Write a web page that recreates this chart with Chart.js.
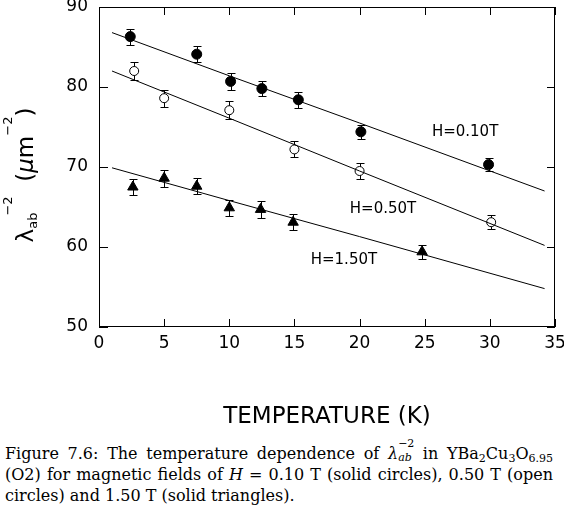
<!DOCTYPE html>
<html>
<head>
<meta charset="utf-8">
<script src="https://cdn.jsdelivr.net/npm/chart.js@4"></script>
<style>
  body { margin: 0; background: #fff; }
  #wrap { position: relative; width: 564px; height: 514px; }
  #chart { position: absolute; left: 0; top: 0; }
  #cap {
    position: absolute; left: 5px; top: 443px; width: 548px;
    font-family: "DejaVu Serif", serif; font-size: 16px; color: #000;
  }
  .ln { height: 21px; line-height: 21px; white-space: nowrap; }
  .j { text-align: justify; text-align-last: justify; }
  sub { font-size: 11px; vertical-align: -3px; line-height: 0; }
  .ss { display: inline-block; position: relative; width: 16px; height: 10px; }
  .ss .sp { position: absolute; left: 0; top: -11px; font-size: 11px; line-height: 11px; }
  .ss .sb { position: absolute; left: 0; top: 3px; font-size: 11px; line-height: 11px; }
</style>
</head>
<body>
<div id="wrap">
  <canvas id="chart" width="564" height="432"></canvas>
  <div id="cap">
    <div class="ln j">Figure 7.6: The temperature dependence of <i>λ</i><span class="ss"><span class="sp">−2</span><span class="sb"><i>ab</i></span></span> in YBa<sub>2</sub>Cu<sub>3</sub>O<sub>6.95</sub></div>
    <div class="ln j">(O2) for magnetic fields of <i>H</i> = 0.10 T (solid circles), 0.50 T (open</div>
    <div class="ln">circles) and 1.50 T (solid triangles).</div>
  </div>
</div>
<script>
// H = 0.10 T (solid circles)
const temps010 = [2.4, 7.5, 10.1, 12.5, 15.3, 20.1, 29.9];
const lam010 = [86.3, 84.1, 80.7, 79.8, 78.4, 74.4, 70.3];
const err010 = [1.0, 1.0, 1.05, 0.9, 1.0, 0.85, 0.85];

// H = 0.50 T (open circles)
const temps050 = [2.7, 5.0, 10.0, 15.0, 20.0, 30.1];
const lam050 = [82.0, 78.6, 77.1, 72.2, 69.5, 63.1];
const err050 = [1.1, 1.05, 1.1, 1.0, 1.0, 0.9];

// H = 1.50 T (solid triangles)
const temps150 = [2.6, 5.0, 7.5, 10.0, 12.4, 14.9, 24.8];
const lam150 = [67.5, 68.6, 67.6, 64.9, 64.7, 63.1, 59.4];
const err150 = [1.0, 1.05, 1.0, 1.0, 1.05, 1.0, 0.85];

// fitted curves
const fitTemps = [1.0, 10, 20, 34.2];
const fit010 = [86.8, 81.4, 75.5, 67.0];
const fit050 = [82.0, 76.1, 69.5, 60.2];
const fit150 = [69.9, 65.8, 61.3, 54.8];

const fieldLabels = ["H=0.10T", "H=0.50T", "H=1.50T"];
const labelSpots = [[28.1, 74.3], [21.8, 64.7], [18.8, 58.4]];

const xTicks = [0, 5, 10, 15, 20, 25, 30, 35];
const yTicks = [50, 60, 70, 80, 90];

const FONT = "'DejaVu Sans', sans-serif";

function pts(xs, ys) {
    return xs.map((x, i) => ({ x: x, y: ys[i] }));
}

const errorSets = [
    { t: temps010, v: lam010, e: err010 },
    { t: temps050, v: lam050, e: err050 },
    { t: temps150, v: lam150, e: err150 }
];

const framePlugin = {
    id: "frame",
    beforeDatasetsDraw(chart) {
        const ctx = chart.ctx;
        const xs = chart.scales.x, ys = chart.scales.y;
        ctx.save();
        ctx.strokeStyle = "#000";
        ctx.lineWidth = 1;
        errorSets.forEach(set => {
            set.t.forEach((t, i) => {
                const px = Math.round(xs.getPixelForValue(t)) + 0.5;
                const top = Math.round(ys.getPixelForValue(set.v[i] + set.e[i])) + 0.5;
                const bot = Math.round(ys.getPixelForValue(set.v[i] - set.e[i])) + 0.5;
                ctx.beginPath();
                ctx.moveTo(px, top); ctx.lineTo(px, bot);
                ctx.moveTo(px - 4, top); ctx.lineTo(px + 4, top);
                ctx.moveTo(px - 4, bot); ctx.lineTo(px + 4, bot);
                ctx.stroke();
            });
        });
        ctx.restore();
    },
    afterDraw(chart) {
        const ctx = chart.ctx;
        const a = chart.chartArea;
        const xs = chart.scales.x, ys = chart.scales.y;
        ctx.save();
        ctx.strokeStyle = "#000";
        ctx.lineWidth = 1;
        ctx.strokeRect(a.left + 0.5, a.top + 0.5, a.right - a.left - 1, a.bottom - a.top - 1);

        // inward ticks on all four sides
        ctx.beginPath();
        xTicks.forEach(v => {
            const px = Math.round(xs.getPixelForValue(v)) + 0.5;
            ctx.moveTo(px, a.bottom); ctx.lineTo(px, a.bottom - 8);
            ctx.moveTo(px, a.top); ctx.lineTo(px, a.top + 8);
        });
        yTicks.forEach(v => {
            const py = Math.round(ys.getPixelForValue(v)) + 0.5;
            ctx.moveTo(a.left, py); ctx.lineTo(a.left + 9, py);
            ctx.moveTo(a.right, py); ctx.lineTo(a.right - 8, py);
        });
        ctx.stroke();

        ctx.fillStyle = "#000";
        // field labels
        ctx.font = "15px " + FONT;
        ctx.textAlign = "center";
        ctx.textBaseline = "middle";
        fieldLabels.forEach((txt, i) => {
            ctx.fillText(txt, xs.getPixelForValue(labelSpots[i][0]), ys.getPixelForValue(labelSpots[i][1]));
        });

        // x title
        ctx.font = "23px " + FONT;
        ctx.textBaseline = "middle";
        ctx.fillText("TEMPERATURE (K)", (a.left + a.right) / 2, 417);

        // y title, rotated
        const main = "23px " + FONT, small = "13px " + FONT;
        const parts = [
            { t: "λ", f: main, dy: 0 },
            { t: "ab", f: small, dy: 4 },
            { t: "−2", f: small, dy: -21, back: 3 },
            { t: "  (", f: main, dy: 0 },
            { t: "μ", f: "italic " + main, dy: 0 },
            { t: "m", f: main, dy: 0 },
            { t: "−2", f: small, dy: -21 },
            { t: ")", f: main, dy: 0 }
        ];
        let total = 0;
        parts.forEach(p => {
            ctx.font = p.f;
            p.w = ctx.measureText(p.t).width;
            total += p.w - (p.back || 0);
        });
        ctx.translate(33, 175);
        ctx.rotate(-Math.PI / 2);
        ctx.textAlign = "left";
        ctx.textBaseline = "alphabetic";
        let cx = -total / 2;
        parts.forEach(p => {
            ctx.font = p.f;
            cx -= (p.back || 0);
            ctx.fillText(p.t, cx, p.dy);
            cx += p.w;
        });
        ctx.restore();
    }
};

new Chart(document.getElementById("chart"), {
    type: "scatter",
    data: {
        datasets: [
            { data: pts(fitTemps, fit010), showLine: true, pointRadius: 0, borderColor: "#000", borderWidth: 1 },
            { data: pts(fitTemps, fit050), showLine: true, pointRadius: 0, borderColor: "#000", borderWidth: 1 },
            { data: pts(fitTemps, fit150), showLine: true, pointRadius: 0, borderColor: "#000", borderWidth: 1 },
            { data: pts(temps010, lam010), pointStyle: "circle", pointRadius: 5, backgroundColor: "#000", borderColor: "#000", borderWidth: 1 },
            { data: pts(temps050, lam050), pointStyle: "circle", pointRadius: 4.5, backgroundColor: "#fff", borderColor: "#000", borderWidth: 1 },
            { data: pts(temps150, lam150), pointStyle: "triangle", pointRadius: 6, backgroundColor: "#000", borderColor: "#000", borderWidth: 1 }
        ]
    },
    options: {
        responsive: false,
        animation: false,
        events: [],
        layout: { padding: { top: 6, right: 9, left: 0, bottom: 0 } },
        plugins: { legend: { display: false }, tooltip: { enabled: false } },
        scales: {
            x: {
                type: "linear", min: 0, max: 35,
                ticks: { stepSize: 5, color: "#000", font: { family: FONT, size: 17 }, padding: 6, maxRotation: 0 },
                grid: { display: false, drawTicks: false },
                border: { display: false },
                afterFit: s => { s.height = 105; s.paddingLeft = 0; s.paddingRight = 0; }
            },
            y: {
                type: "linear", min: 50, max: 90,
                ticks: { stepSize: 10, color: "#000", font: { family: FONT, size: 17 }, padding: 11 },
                grid: { display: false, drawTicks: false },
                border: { display: false },
                afterFit: s => { s.width = 99; s.paddingTop = 0; s.paddingBottom = 0; }
            }
        }
    },
    plugins: [framePlugin]
});
</script>
</body>
</html>
